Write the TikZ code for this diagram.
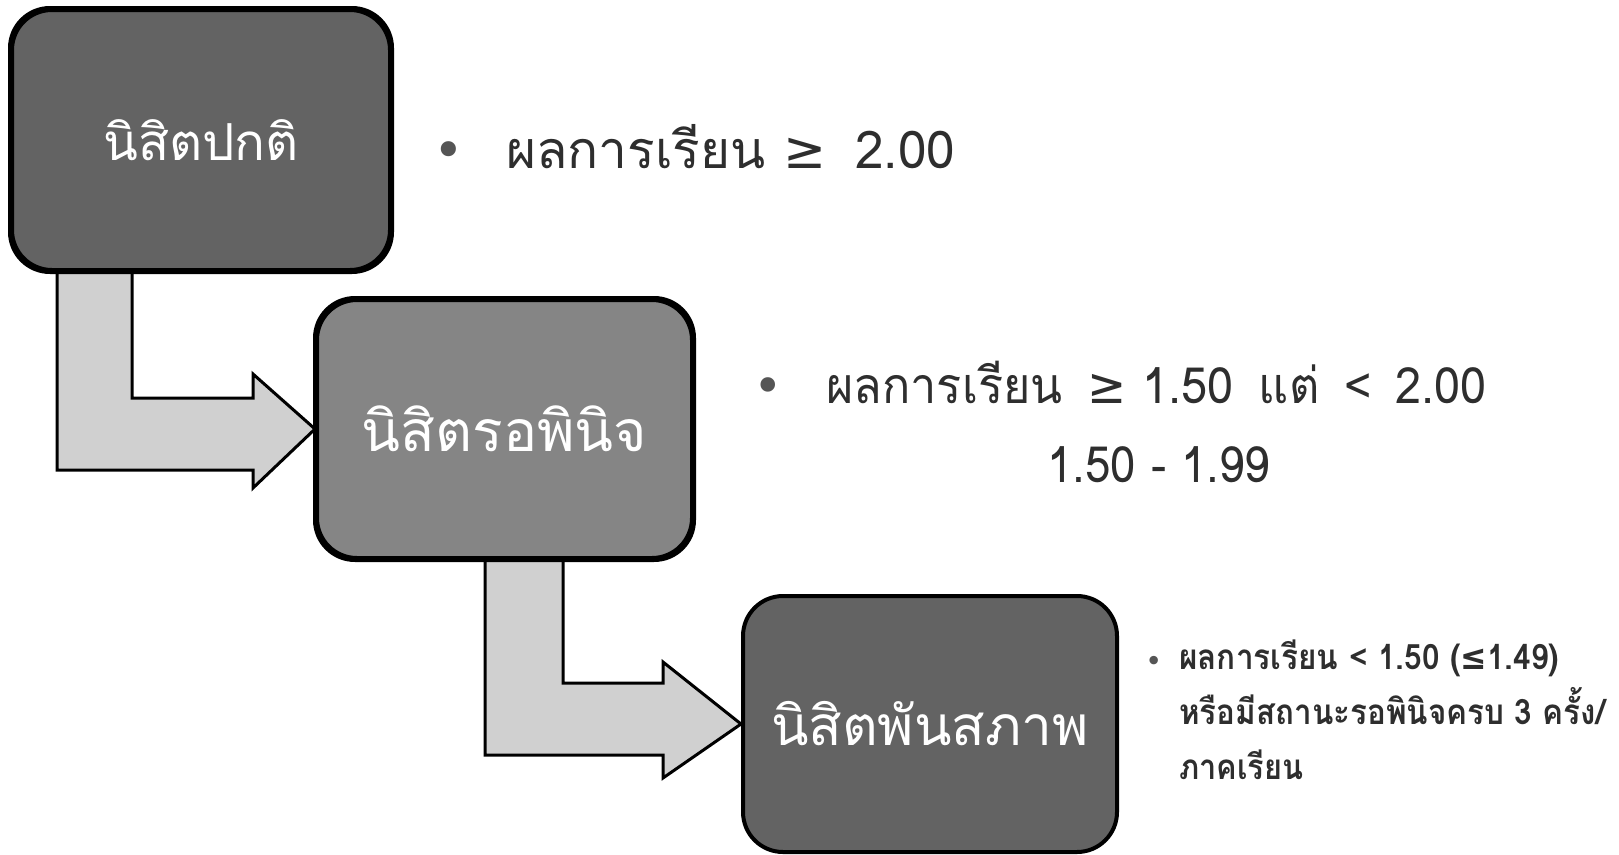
\documentclass[tikz,border=0pt]{standalone}
\usepackage{fontspec}
\usepackage{graphicx}
\usetikzlibrary{calc}
\newfontfamily\thai[Script=Thai]{Loma}
\newfontfamily\symf{DejaVu Sans}
\newcommand{\fitw}[2]{\resizebox{#1}{\height}{#2}}
\definecolor{boxdark}{HTML}{636363}
\definecolor{boxmid}{HTML}{858585}
\definecolor{arrowfill}{HTML}{D0D0D0}
\definecolor{txt}{HTML}{2E2E2E}
\definecolor{bul}{HTML}{555555}
\tikzset{
  stagebox/.style={draw=black, line width=4pt, rounded corners=40pt, inner sep=0pt,
    text=white},
  fatarrow/.style={draw=black, line width=3pt, fill=arrowfill, line join=miter},
  bigtext/.style={anchor=base west, inner sep=0pt, text=txt, font=\thai\fontsize{52}{60}\selectfont},
  smalltext/.style={anchor=north west, inner sep=0pt, align=left, text=txt, font=\thai\bfseries\fontsize{35}{55}\selectfont},
}
\begin{document}
\begin{tikzpicture}[x=1pt, y=-1pt]
\useasboundingbox (0,0) rectangle (1619,854);
\fill[white] (0,0) rectangle (1619,854);
% boxes
\node[stagebox, fill=boxdark, minimum width=378pt, minimum height=260pt, font=\thai\fontsize{51}{60}\selectfont] (b1) at (201,140) {นิสิตปกติ};
\node[stagebox, fill=boxmid, minimum width=375pt, minimum height=258pt, font=\thai\fontsize{57}{64}\selectfont] (b2) at (504.5,429) {นิสิตรอพินิจ};
\node[stagebox, fill=boxdark, minimum width=374pt, minimum height=256pt, font=\thai\fontsize{55}{64}\selectfont] (b3) at (930,724) {นิสิตพันสภาพ};
% arrows
\draw[fatarrow] ([xshift=-144pt,yshift=2pt]b1.south) -- ([xshift=-69pt,yshift=2pt]b1.south)
  -- (132,398) -- (253,398) -- (253,374) -- (b2.west) -- (253,488) -- (253,470) -- (57,470) -- cycle;
\draw[fatarrow] ([xshift=-19.5pt,yshift=2pt]b2.south) -- ([xshift=58.5pt,yshift=2pt]b2.south)
  -- (563,683) -- (663,683) -- (663,662) -- (b3.west) -- (663,778) -- (663,755) -- (485,755) -- cycle;
% box outlines over arrow stems
\draw[black, line width=4pt, rounded corners=40pt] (b1.south west) rectangle (b1.north east);
\draw[black, line width=4pt, rounded corners=40pt] (b2.south west) rectangle (b2.north east);
% texts
\node[bigtext] (t1) at (433,168) {\makebox[73pt][l]{\symf\color{bul}•}\fitw{449pt}{ผลการเรียน {\symf ≥}\hspace{12pt} 2.00}};
\node[bigtext, font=\thai\fontsize{50}{60}\selectfont] (t2) at (753,403) {\makebox[73pt][l]{\symf\color{bul}•}\fitw{660pt}{ผลการเรียน\hspace{10pt} {\symf ≥} 1.50\hspace{10pt} แต่\hspace{10pt} <\hspace{8pt} 2.00}};
\node[bigtext, font=\thai\fontsize{50}{60}\selectfont] (t3) at (1047,482) {\fitw{223pt}{1.50 - 1.99}};
\node[smalltext] (t4) at (1146,640) {\makebox[33pt][l]{\symf\color{bul}\fontsize{24}{24}\selectfont•}\fitw{380pt}{ผลการเรียน < 1.50 ({\symf ≤}1.49)}\\
\hspace{33pt}\fitw{426pt}{หรือมีสถานะรอพินิจครบ 3 ครั้ง/}\\
\hspace{33pt}\fitw{124pt}{ภาคเรียน}};
\end{tikzpicture}
\end{document}
